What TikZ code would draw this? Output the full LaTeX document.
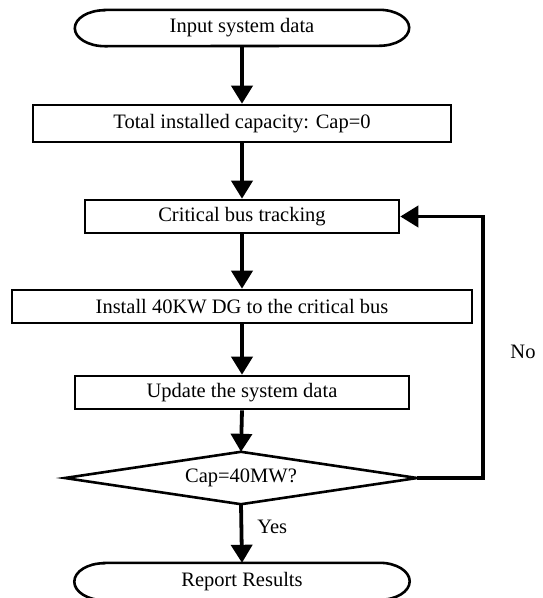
\documentclass[tikz,border=0pt]{standalone}
\usepackage{fontspec}
\setmainfont{Liberation Serif}
\usetikzlibrary{arrows.meta}
\tikzset{
  txt/.style={font=\fontsize{20.5pt}{24pt}\selectfont, inner sep=0pt},
  procbox/.style={txt, draw, line width=2.6pt, rectangle},
  plainbox/.style={txt, rectangle},
  flow/.style={line width=3.8pt, -{Triangle[length=18pt,width=21pt]}},
  boxline/.style={line width=2.6pt, line join=miter},
}
\begin{document}
\begin{tikzpicture}[x=1pt,y=-1pt]
\useasboundingbox (0,0) rectangle (542,598);
\node[plainbox, minimum width=334pt, minimum height=36pt] (t1) at (242,28) {Input system data};
\node[procbox, minimum width=418pt, minimum height=37pt] (b2) at (242,123.5) {Total installed capacity: Cap=0};
\node[procbox, minimum width=314pt, minimum height=33pt] (b3) at (242,216.5) {Critical bus tracking};
\node[procbox, minimum width=460pt, minimum height=33pt] (b4) at (242,306.5) {Install 40KW DG to the critical bus};
\node[procbox, minimum width=334pt, minimum height=33pt] (b5) at (242,392.5) {Update the system data};
\node[plainbox, minimum width=352pt, minimum height=52pt] (d) at (241,478) {Cap=40MW?};
\node[plainbox, minimum width=335pt, minimum height=37pt] (t2) at (242,581.5) {Report Results};
% terminal outlines
\draw[boxline] ([xshift=30pt]t1.north west) -- ([xshift=-30pt]t1.north east)
  arc[start angle=90, end angle=-90, x radius=30pt, y radius=18pt]
  -- ([xshift=30pt]t1.south west)
  arc[start angle=270, end angle=90, x radius=30pt, y radius=18pt] -- cycle;
\draw[boxline] ([xshift=30pt]t2.north west) -- ([xshift=-30pt]t2.north east)
  arc[start angle=90, end angle=-90, x radius=30pt, y radius=18.5pt]
  -- ([xshift=30pt]t2.south west)
  arc[start angle=270, end angle=90, x radius=30pt, y radius=18.5pt] -- cycle;
% decision outline
\draw[boxline] (d.north) -- (d.east) -- (d.south) -- (d.west) -- cycle;
% connectors
\draw[flow] (t1.south) -- (b2.north);
\draw[flow] (b2.south) -- (b3.north);
\draw[flow] (b3.south) -- (b4.north);
\draw[flow] (b4.south) -- (b5.north);
\draw[flow] (b5.south) -- (d.north);
\draw[flow] (d.south) -- node[txt, anchor=west, xshift=14pt, pos=0.39] (yes) {Yes} (t2.north);
\coordinate (fb) at (483,478);
\draw[flow] (d.east) -- (fb) |- (b3.east);
\node[txt] (no) at (523,352) {No};
\end{tikzpicture}
\end{document}
